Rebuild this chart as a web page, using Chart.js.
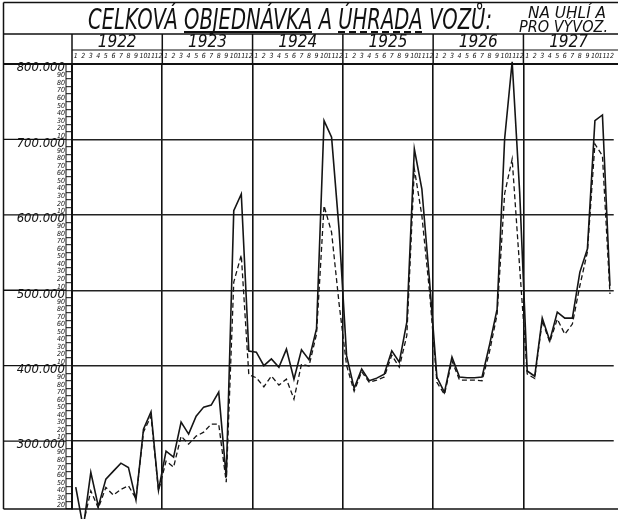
<!DOCTYPE html>
<html>
<head>
<meta charset="utf-8">
<script src="https://cdn.jsdelivr.net/npm/chart.js@4.4.1/dist/chart.umd.min.js"></script>
<style>
  html, body { margin: 0; padding: 0; background: #fff; }
  #wrap { position: relative; width: 618px; height: 519px; overflow: hidden; }
  #c { position: absolute; left: 0; top: 0; }
  .lbl {
    position: absolute; white-space: nowrap; color: #111; line-height: 1;
    font-family: "Liberation Sans Narrow", "DejaVu Sans Condensed", sans-serif;
    font-style: italic; transform-origin: 0 0;
  }
  #title { left: 88px; top: 6px; font-size: 28px; }
  #sub1 { left: 528px; top: 5px; font-size: 16px; }
  #sub2 { left: 519px; top: 18.5px; font-size: 16px; }
  .ul { position: absolute; height: 1.5px; background: #111; }
  .ul.dash { background: repeating-linear-gradient(to right, #111 0 7px, transparent 7px 11px); }
</style>
</head>
<body>
<div id="wrap">
  <canvas id="c" width="618" height="519"></canvas>
  <div class="lbl" id="title" data-w="404">CELKOVÁ <span id="w1">OBJEDNÁVKA</span> A <span id="w2">ÚHRADA</span> VOZŮ:</div>
  <div class="lbl" id="sub1" data-w="78">NA UHLÍ A</div>
  <div class="lbl" id="sub2" data-w="89">PRO VÝVOZ.</div>
</div>
<script>
// Celková objednávka a úhrada vozů, 1922-1927, monthly

const YEARS = ["1922", "1923", "1924", "1925", "1926", "1927"];
const MONTHS = ["1", "2", "3", "4", "5", "6", "7", "8", "9", "10", "11", "12"];

// objednávka (solid line)
const ordered = [
  239000, 185000, 258500, 213400, 249600, 260200, 270800, 265100, 222100, 315900, 338800, 235000,
  286700, 278800, 325200, 309300, 333100, 345100, 347700, 365000, 252200, 605400, 627600, 419400,
  418000, 400000, 409000, 398000, 422000, 382000, 421000, 408000, 449000, 725000, 703000, 580000,
  413000, 370000, 395500, 380000, 383500, 388800, 419700, 404800, 457800, 687300, 634200, 515000,
  384500, 364600, 411400, 385000, 384000, 384000, 385000, 428000, 475000, 700500, 803000, 630000,
  393000, 386000, 463100, 433000, 471100, 463100, 463100, 524100, 554600, 724800, 732400, 506000,
];

// úhrada (dashed line)
const delivered = [
  null, 190000, 234100, 211100, 238600, 228400, 236000, 240700, 224000, 312000, 333000, 234000,
  273500, 265500, 306600, 296000, 306600, 311900, 322500, 322500, 245600, 510900, 546700, 388000,
  384000, 372000, 386200, 374300, 382200, 355700, 402100, 399500, 441900, 612100, 576800, 482000,
  400000, 366000, 392000, 378000, 381000, 385000, 414000, 398000, 440000, 661000, 599000, 500000,
  378000, 362000, 406500, 381000, 381000, 381000, 380000, 419000, 468000, 628000, 674000, 530000,
  389000, 383000, 459500, 431300, 461800, 441900, 455200, 506000, 550700, 693900, 678400, 495000,
];

const Y_MIN = 210000;
const Y_MAX = 800000;
const Y_STEP = 10000;

const labels = [];
YEARS.forEach((y) => MONTHS.forEach((m) => labels.push(y + "-" + m)));

const isMajor = (v) => v % 100000 === 0;

// header cells, ruler and frame lines around the plot
const framePlugin = {
  id: "frame",
  afterDraw(chart) {
    const { ctx, chartArea: a, scales } = chart;
    const L = 3.5, R = 618, T = 2.5;
    const line = (x1, y1, x2, y2, w) => {
      ctx.lineWidth = w;
      ctx.beginPath();
      ctx.moveTo(x1, y1);
      ctx.lineTo(x2, y2);
      ctx.stroke();
    };
    ctx.save();
    ctx.strokeStyle = "#111";
    line(L, T, R, T, 1.5);
    line(L, T, L, a.bottom, 1.5);
    line(L, 34, R, 34, 1.5);
    line(a.left, 50, R, 50, 1.2);
    line(L, a.top, R, a.top, 2);
    line(L, a.bottom, R, a.bottom, 1.6);
    line(a.left, 34, a.left, a.top, 1.5);
    const yw = (a.right - a.left) / YEARS.length;
    for (let k = 1; k < YEARS.length; k++) {
      line(a.left + k * yw, 34, a.left + k * yw, a.top, 1.5);
    }
    line(a.left - 6, a.top, a.left - 6, a.bottom, 1);
    scales.y.ticks.forEach((t) => {
      if (isMajor(t.value)) {
        const py = scales.y.getPixelForValue(t.value);
        line(L, py, a.left - 6, py, 1.3);
      }
    });
    ctx.restore();
  },
};

Chart.defaults.font.family = '"Liberation Sans Narrow", "DejaVu Sans Condensed", sans-serif';
Chart.defaults.color = "#111";

new Chart(document.getElementById("c"), {
  type: "line",
  data: {
    labels: labels,
    datasets: [
      {
        label: "Objednávka",
        data: ordered,
        borderColor: "#151515",
        borderWidth: 1.6,
        pointRadius: 0,
        tension: 0,
        clip: false,
        xAxisID: "x",
      },
      {
        label: "Úhrada",
        data: delivered,
        borderColor: "#151515",
        borderWidth: 1.3,
        borderDash: [5, 3],
        pointRadius: 0,
        tension: 0,
        clip: false,
        xAxisID: "x",
      },
    ],
  },
  options: {
    responsive: false,
    animation: false,
    layout: { padding: { top: 34, right: 1, bottom: 10, left: 0 } },
    plugins: { legend: { display: false }, tooltip: { enabled: false } },
    scales: {
      x: {
        type: "category",
        position: "top",
        offset: true,
        weight: 0,
        grid: { display: false, drawTicks: false },
        border: { display: false },
        ticks: {
          autoSkip: false,
          maxRotation: 0,
          minRotation: 0,
          padding: 4,
          font: { size: 7, style: "italic", lineHeight: 1 },
          callback: (v, i) => MONTHS[i % 12],
        },
        afterFit: (s) => { s.height = 14; },
      },
      years: {
        type: "category",
        labels: YEARS,
        position: "top",
        offset: true,
        weight: 1,
        grid: {
          offset: true,
          color: (c) => (c.tick ? "#111" : "rgba(0,0,0,0)"),
          lineWidth: 1.6,
          drawTicks: false,
        },
        border: { display: false },
        ticks: {
          autoSkip: false,
          maxRotation: 0,
          padding: -1,
          font: { size: 17, style: "italic", lineHeight: 1 },
        },
        afterFit: (s) => { s.height = 16; },
      },
      y: {
        min: Y_MIN,
        max: Y_MAX,
        border: { color: "#111", width: 2 },
        grid: {
          color: (c) => (c.tick && isMajor(c.tick.value) ? "#222" : "rgba(0,0,0,0)"),
          lineWidth: 1.4,
          tickLength: 6,
          tickColor: "#111",
          tickWidth: 1,
        },
        ticks: {
          stepSize: Y_STEP,
          autoSkip: false,
          padding: 1,
          labelOffset: 4,
          font: (c) =>
            c.tick && isMajor(c.tick.value)
              ? { size: 13, style: "italic", lineHeight: 1 }
              : { size: 7, style: "italic", lineHeight: 1 },
          callback: (v) => {
            if (v <= Y_MIN) return "";
            return isMajor(v) ? v / 1000 + ".000" : String((v % 100000) / 1000);
          },
        },
        afterFit: (s) => { s.width = 72; },
      },
    },
  },
  plugins: [framePlugin],
});

// fit header texts to their widths and put the legend underlines under the words
document.querySelectorAll(".lbl[data-w]").forEach((el) => {
  const w = el.getBoundingClientRect().width;
  el.style.transform = "scaleX(" + el.dataset.w / w + ")";
});
const wrapBox = document.getElementById("wrap").getBoundingClientRect();
[["w1", ""], ["w2", " dash"]].forEach(([id, cls]) => {
  const r = document.getElementById(id).getBoundingClientRect();
  const u = document.createElement("div");
  u.className = "ul" + cls;
  u.style.left = r.left - wrapBox.left + "px";
  u.style.width = r.width + "px";
  u.style.top = "31px";
  document.getElementById("wrap").appendChild(u);
});
</script>
</body>
</html>
